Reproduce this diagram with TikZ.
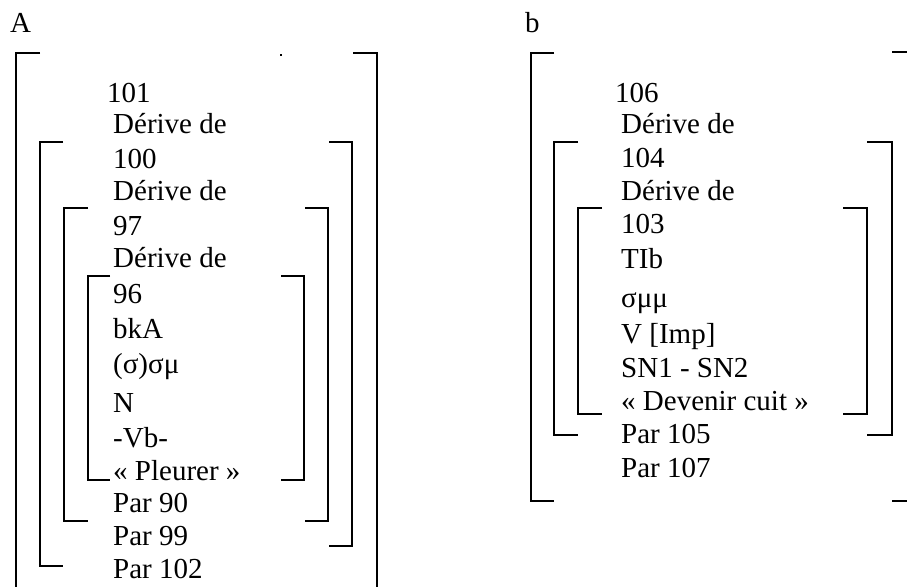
\documentclass[tikz,border=0pt]{standalone}
\usepackage{fontspec}
\setmainfont{Liberation Serif}
\usepackage{tikz}
\usepackage{xcolor}

\tikzset{
  lbl/.style={anchor=base west, inner sep=0pt, font=\fontsize{29}{35}\selectfont},
  brk/.style={line width=1.7pt}
}

\begin{document}
\begin{tikzpicture}[x=1pt, y=-1pt]

		% Fix the page size
		\useasboundingbox (0,0) rectangle (907,587);

		% Panel titles
		\node[lbl] (titleA) at (10, 32) {A};
		\node[lbl] (titleB) at (525, 32) {b};

		% Left panel: outer bracket, open at the bottom
		\draw[brk] (40,53) -- (16,53) -- (16,587);
		\draw[brk] (353,53) -- (377,53) -- (377,587);
		\fill (280,54) rectangle (282,56);

		% Left panel: second bracket
		\draw[brk] (63,142) -- (40,142) -- (40,566) -- (63,566);
		\draw[brk] (329,142) -- (352,142) -- (352,546) -- (329,546);

		% Left panel: third bracket
		\draw[brk] (88,208) -- (64,208) -- (64,521) -- (88,521);
		\draw[brk] (305,208) -- (328,208) -- (328,521) -- (305,521);

		% Left panel: inner bracket
		\draw[brk] (110,276) -- (88,276) -- (88,480) -- (110,480);
		\draw[brk] (281,276) -- (304,276) -- (304,480) -- (281,480);

		% Left panel: texts
		\node[lbl] (a101) at (107,102) {101};
		\node[lbl] (aDer1) at (113,133) {Dérive de};
		\node[lbl] (a100) at (113,168) {100};
		\node[lbl] (aDer2) at (113,200) {Dérive de};
		\node[lbl] (a97) at (113,235) {97};
		\node[lbl] (aDer3) at (113,267) {Dérive de};
		\node[lbl] (a96) at (113,303) {96};
		\node[lbl] (aBkA) at (113,338) {bkA};
		\node[lbl] (aSig) at (113,373) {(σ)σμ};
		\node[lbl] (aN) at (113,412) {N};
		\node[lbl] (aVb) at (113,447) {-Vb-};
		\node[lbl] (aPleurer) at (113,480) {« Pleurer »};
		\node[lbl] (aPar90) at (113,512) {Par 90};
		\node[lbl] (aPar99) at (113,545) {Par 99};
		\node[lbl] (aPar102) at (113,578) {Par 102};

		% Right panel: outer bracket, right side cut off
		\draw[brk] (554,53) -- (531,53) -- (531,501) -- (554,501);
		\draw[brk] (892,52) -- (907,52);
		\draw[brk] (892,501) -- (907,501);

		% Right panel: second bracket
		\draw[brk] (578,142) -- (554,142) -- (554,435) -- (578,435);
		\draw[brk] (867,142) -- (892,142) -- (892,435) -- (867,435);

		% Right panel: inner bracket
		\draw[brk] (602,208) -- (578,208) -- (578,414) -- (602,414);
		\draw[brk] (843,208) -- (867,208) -- (867,414) -- (843,414);

		% Right panel: texts
		\node[lbl] (b106) at (615,102) {106};
		\node[lbl] (bDer1) at (621,133) {Dérive de};
		\node[lbl] (b104) at (621,167) {104};
		\node[lbl] (bDer2) at (621,200) {Dérive de};
		\node[lbl] (b103) at (621,233) {103};
		\node[lbl] (bTIb) at (621,268) {TIb};
		\node[lbl] (bSig) at (621,307) {σμμ};
		\node[lbl] (bImp) at (621,343) {V [Imp]};
		\node[lbl] (bSN) at (621,377) {SN1 - SN2};
		\node[lbl] (bCuit) at (621,410) {« Devenir cuit »};
		\node[lbl] (bPar105) at (621,443) {Par 105};
		\node[lbl] (bPar107) at (621,477) {Par 107};
	\end{tikzpicture}
\end{document}
